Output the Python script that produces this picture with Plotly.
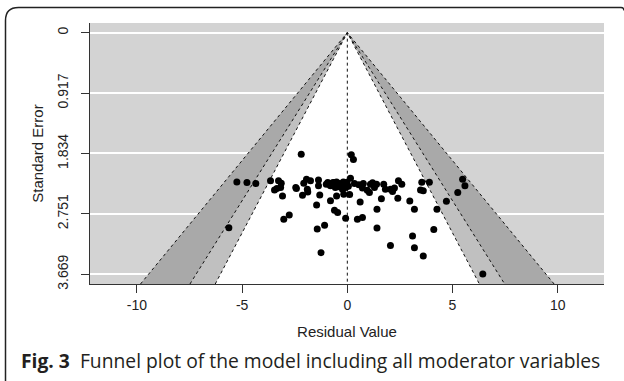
import plotly.graph_objects as go

# ---- data ----
residuals = [-2.19, 0.19, 0.29, -5.25, -4.77, -4.35, -3.65, -3.27, -3.14, -3.46, -3.35, -3.17,
             -3.08, -3.02, -2.76, -2.45, -2.42, -2.13, -2.07, -1.94, -1.90, -1.88, -1.75, -1.37,
             -1.37, -1.31, -1.46, -1.43, -1.08, -1.25, -0.93, -0.80, -0.80, -0.65, -0.57, -0.51,
             -0.46, -0.51, -0.61, -0.46, -0.32, -0.19, -0.13, -0.23, -0.08, -0.04, -0.17, -0.08,
             0.15, 0.11, 0.34, 0.61, 0.48, 0.72, 0.76, 0.72, 0.95, 1.10, 1.05, 1.29, 1.39, 1.41,
             1.41, 1.62, 1.73, 1.81, 2.05, 2.15, 2.24, 2.05, 2.40, 2.43, 2.59, 2.97, 3.19, 3.10,
             3.19, 3.54, 3.48, 3.61, 3.90, 3.61, 4.11, 4.26, 4.71, 5.25, 5.48, 5.59, 6.44, -5.63,
             -0.85, -0.70, -0.38, -0.28, -0.02, 0.05, -1.00, -0.40, 1.20, 0.55]
std_errors = [1.845, 1.855, 1.926, 2.266, 2.276, 2.29, 2.25, 2.25, 2.286, 2.387, 2.367, 2.35,
              2.478, 2.833, 2.767, 2.35, 2.367, 2.468, 2.286, 2.225, 2.377, 2.418, 2.25, 2.235,
              2.326, 2.463, 2.615, 2.98, 2.925, 3.34, 2.276, 2.326, 2.55, 2.276, 2.35, 2.266,
              2.30, 2.478, 2.696, 2.73, 2.326, 2.266, 2.316, 2.377, 2.35, 2.29, 2.453, 2.818,
              2.21, 2.458, 2.29, 2.57, 2.833, 2.808, 2.29, 2.36, 2.392, 2.30, 2.428, 2.35, 2.30, 2.68,
              2.965, 2.52, 2.30, 2.377, 2.377, 2.41, 2.36, 3.23, 2.514, 2.25, 2.30, 2.555, 2.68, 3.087,
              3.264, 2.27, 2.387, 2.40, 2.27, 3.39, 2.99, 2.68, 2.56, 2.428, 2.225, 2.326, 3.665, 2.96,
              2.30, 2.28, 2.29, 2.31, 2.27, 2.33, 2.30, 2.34, 2.28, 2.31]
y_tickvals = [0, 0.917, 1.834, 2.751, 3.669]
y_ticktext = ["0", "0.917", "1.834", "2.751", "3.669"]
x_tickvals = [-10, -5, 0, 5, 10]
x_ticktext = ["-10", "-5", "0", "5", "10"]
z_levels = [2.576, 1.960, 1.645]   # 99%, 95%, 90% contours
shades = ["#A9A9A9", "#C0C0C0", "#FFFFFF"]

# ---- geometry ----
W, H = 624, 381
L, R, T, B = 90, 20, 23, 97
se_max = max(y_tickvals)
y_bottom = se_max * 1.04
y_top = -se_max * 0.04
x_range = [-12.23, 12.2]

pw, ph = W - L - R, H - T - B


def px(xp):
    return (xp - L) / pw


def py(yp):
    return (H - B - yp) / ph


fig = go.Figure()

for z, col in zip(z_levels, shades):
    fig.add_trace(go.Scatter(
        x=[-z * y_bottom, 0, z * y_bottom, -z * y_bottom],
        y=[y_bottom, 0, y_bottom, y_bottom],
        fill="toself", fillcolor=col, mode="lines",
        line=dict(width=0), hoverinfo="skip", showlegend=False))

for z in z_levels:
    fig.add_trace(go.Scatter(
        x=[-z * y_bottom, 0, z * y_bottom], y=[y_bottom, 0, y_bottom],
        mode="lines", line=dict(color="#111111", width=1, dash="dot"),
        hoverinfo="skip", showlegend=False))

fig.add_trace(go.Scatter(
    x=[0, 0], y=[0, y_bottom], mode="lines",
    line=dict(color="#111111", width=1, dash="dot"),
    hoverinfo="skip", showlegend=False))

fig.add_trace(go.Scatter(
    x=residuals, y=std_errors, mode="markers",
    marker=dict(color="black", size=7, line=dict(width=0)),
    showlegend=False))

axis_font = dict(family="Liberation Sans, Arial, sans-serif", size=14, color="#222222")

fig.update_xaxes(
    range=x_range, tickvals=x_tickvals, ticktext=x_ticktext, automargin=False,
    showgrid=False, zeroline=False, showline=True, linecolor="#333333", linewidth=1,
    ticks="outside", ticklen=8, tickcolor="#333333", tickfont=axis_font,
    title=dict(text="Residual Value", font=dict(family="Liberation Sans, Arial, sans-serif",
                                                  size=15, color="#222222"), standoff=14))
fig.update_yaxes(
    range=[y_bottom, y_top], tickvals=y_tickvals, ticktext=y_ticktext, automargin=False,
    showgrid=True, gridcolor="white", gridwidth=2, zeroline=False,
    showline=True, linecolor="#333333", linewidth=1,
    ticks="outside", ticklen=8, tickcolor="#333333", tickfont=axis_font, tickangle=-90,
    ticklabelstandoff=7,
    title=dict(text="Standard Error", font=dict(family="Liberation Sans, Arial, sans-serif",
                                                  size=15, color="#222222"), standoff=8))

# border around the figure (rounded top-left corner)
r = 13
path = (f"M {px(5.5)},{py(H + 5)} L {px(5.5)},{py(7.5 + r)} "
        f"Q {px(5.5)},{py(7.5)} {px(5.5 + r)},{py(7.5)} "
        f"L {px(621)},{py(7.5)} Q {px(624)},{py(7.5)} {px(624)},{py(10.5)}")
fig.add_shape(type="path", path=path, xref="paper", yref="paper",
              line=dict(color="#222222", width=1.5))

fig.add_annotation(
    x=px(19), y=py(360), xref="paper", yref="paper", xanchor="left", yanchor="middle",
    showarrow=False,
    text="<b>Fig. 3</b>  Funnel plot of the model including all moderator variables",
    font=dict(family="Open Sans, Noto Sans, sans-serif", size=19.3, color="#231f20"))

fig.update_layout(
    width=W, height=H, margin=dict(l=L, r=R, t=T, b=B),
    plot_bgcolor="#D3D3D3", paper_bgcolor="white")

fig.write_html("out.html", config={"displayModeBar": False},
               post_script="document.body.style.margin='0';document.body.style.overflow='hidden';")
